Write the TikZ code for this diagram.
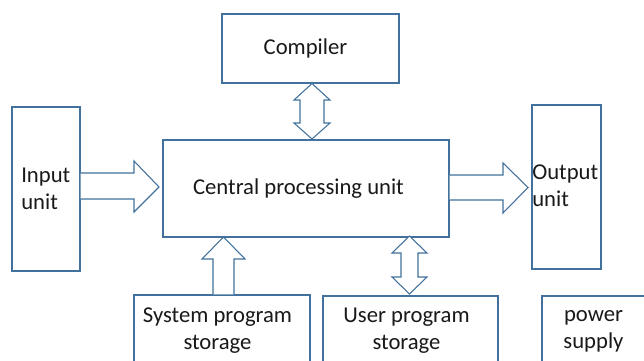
\documentclass[tikz,border=0pt]{standalone}
\usepackage{fontspec}
\setmainfont{Carlito}
\usetikzlibrary{calc}
\definecolor{edge}{RGB}{65,113,156}
\definecolor{ink}{RGB}{25,25,25}
\begin{document}
\begin{tikzpicture}[x=0.75pt,y=-0.75pt,
  box/.style={draw=edge,line width=0.8pt,fill=white,inner sep=0pt,text=ink,
    font=\fontsize{17pt}{20.3pt}\selectfont,align=center},
  arr/.style={draw=edge,line width=0.8pt,fill=white,line join=miter},
  lbl/.style={text=ink,font=\fontsize{17pt}{20.3pt}\selectfont,inner sep=0pt,align=center}]
\useasboundingbox (0,0) rectangle (644,361);
\clip (0,0) rectangle (644,361);
% boxes
\node[box,minimum width=177*0.75pt,minimum height=69*0.75pt] (comp) at (310.5,48.5) {};
\node[lbl] (compt) at (305.5,48) {Compiler};
\node[box,minimum width=286*0.75pt,minimum height=97*0.75pt] (cpu) at (306,188.5) {};
\node[lbl] (cput) at (298.5,189) {Central processing unit};
\node[box,minimum width=68*0.75pt,minimum height=164*0.75pt] (inp) at (46,189) {};
\node[lbl,align=left,anchor=west] (inpt) at (21,188.5) {Input\\unit};
\node[box,minimum width=69*0.75pt,minimum height=164*0.75pt] (outp) at (566.5,187) {};
\node[lbl,align=left,anchor=west] (outpt) at (532,186) {Output\\unit};
\node[box,minimum width=176*0.75pt,minimum height=72*0.75pt] (sys) at (222,331) {};
\node[lbl] (syst) at (217.5,331) {System program\\storage};
\node[box,minimum width=175*0.75pt,minimum height=72*0.75pt] (usr) at (410.5,332) {};
\node[lbl] (usrt) at (406.5,331) {User program\\storage};
\node[box,minimum width=104*0.75pt,minimum height=72*0.75pt] (pwr) at (594,332) {};
\node[lbl] (pwrt) at (593.5,331) {power\\supply};
% compiler <-> cpu (double arrow)
\draw[arr] (comp.south -| 312,0) -- (294,100) -- (300,100) -- (300,123) -- (294,123)
  -- (312,139) -- (330,123) -- (324,123) -- (324,100) -- (330,100) -- cycle;
% input -> cpu
\draw[arr] (inp.east |- 0,173) -- (134,173) -- (134,161) -- (159,187) -- (134,212) -- (134,199) -- (inp.east |- 0,199);
% cpu -> output
\draw[arr] (cpu.east |- 0,175) -- (503,175) -- (503,163) -- (528,187.5) -- (503,213) -- (503,200) -- (cpu.east |- 0,200);
% system storage -> cpu
\draw[arr] (sys.north -| 213,0) -- (213,259) -- (202,259) -- (223.5,237) -- (245,259) -- (234,259) -- (sys.north -| 234,0);
% cpu <-> user storage
\draw[arr] (409.5,236) -- (392,253) -- (401,253) -- (401,277) -- (392,277)
  -- (409.5,294) -- (427,277) -- (418,277) -- (418,253) -- (427,253) -- cycle;
\end{tikzpicture}
\end{document}
